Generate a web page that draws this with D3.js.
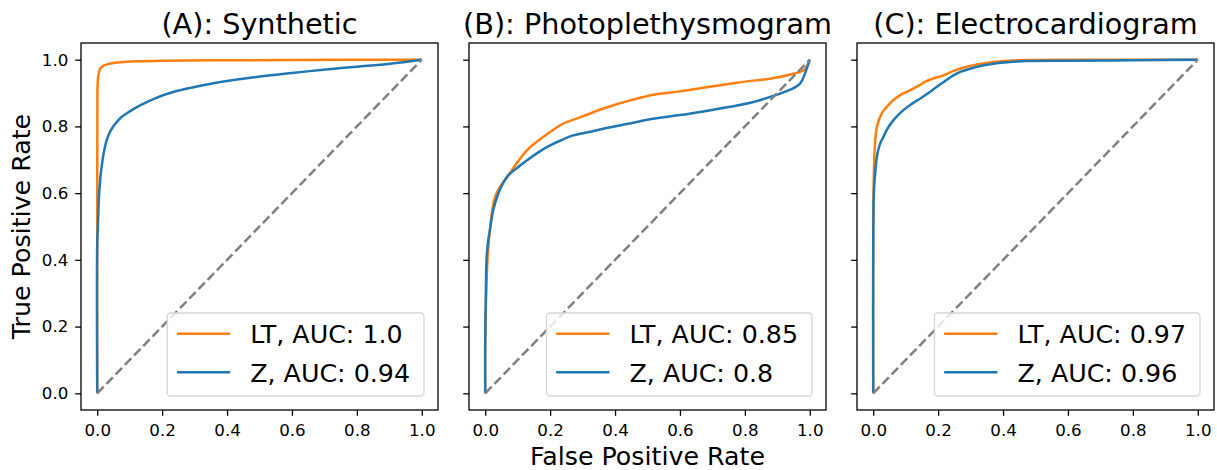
<!DOCTYPE html>
<html>
<head>
<meta charset="utf-8">
<script src="https://cdn.jsdelivr.net/npm/d3@7"></script>
<style>
  body { margin: 0; background: #fff; }
  svg { font-family: "DejaVu Sans", sans-serif; }
</style>
</head>
<body>
<svg id="chart" width="1217" height="470"></svg>
<script>
// panel titles and legend labels
const titles = ["(A): Synthetic", "(B): Photoplethysmogram", "(C): Electrocardiogram"];
const ltLabels = ["LT, AUC: 1.0", "LT, AUC: 0.85", "LT, AUC: 0.97"];
const zLabels = ["Z, AUC: 0.94", "Z, AUC: 0.8", "Z, AUC: 0.96"];
const tickValues = [0, 0.2, 0.4, 0.6, 0.8, 1.0];

// ROC points [fpr, tpr]
const synthLT = [[0,0],[0,0.6],[0.0005,0.85],[0.001,0.92],[0.003,0.95],[0.006,0.965],[0.01,0.974],[0.02,0.982],[0.03,0.986],[0.05,0.99],[0.08,0.993],[0.12,0.995],[0.2,0.997],[0.35,0.998],[0.6,0.999],[1,1]];
const synthZ = [[0,0],[0,0.45],[0.002,0.5],[0.003,0.53],[0.006,0.6],[0.01,0.65],[0.0135,0.678],[0.02,0.72],[0.029,0.758],[0.04,0.785],[0.055,0.807],[0.075,0.828],[0.1,0.845],[0.132,0.863],[0.18,0.885],[0.234,0.903],[0.3,0.918],[0.38,0.933],[0.491,0.948],[0.6,0.96],[0.697,0.97],[0.8,0.979],[0.902,0.988],[1,1]];
const ppgLT = [[0,0],[0,0.15],[0.003,0.3],[0.007,0.4],[0.0145,0.49],[0.022,0.55],[0.03,0.588],[0.045,0.618],[0.071,0.653],[0.09,0.68],[0.107,0.703],[0.13,0.73],[0.158,0.753],[0.2,0.783],[0.24,0.808],[0.3,0.83],[0.353,0.85],[0.4,0.865],[0.446,0.878],[0.518,0.895],[0.6,0.905],[0.672,0.916],[0.75,0.927],[0.806,0.935],[0.877,0.943],[0.949,0.958],[0.983,0.97],[1,1]];
const ppgZ = [[0,0],[0,0.15],[0.002,0.3],[0.004,0.4],[0.008,0.45],[0.0145,0.49],[0.025,0.55],[0.04,0.598],[0.055,0.63],[0.071,0.653],[0.1,0.677],[0.128,0.698],[0.16,0.72],[0.194,0.74],[0.23,0.757],[0.271,0.773],[0.32,0.783],[0.364,0.793],[0.44,0.808],[0.518,0.823],[0.6,0.834],[0.672,0.845],[0.75,0.858],[0.826,0.873],[0.898,0.895],[0.94,0.91],[0.97,0.928],[0.985,0.958],[1,1]];
const ecgLT = [[0,0],[0,0.5],[0.001,0.6],[0.003,0.7],[0.008,0.778],[0.013,0.805],[0.021,0.828],[0.03,0.845],[0.041,0.858],[0.06,0.877],[0.082,0.893],[0.113,0.908],[0.14,0.922],[0.164,0.936],[0.19,0.945],[0.216,0.953],[0.25,0.967],[0.277,0.976],[0.32,0.986],[0.37,0.993],[0.42,0.997],[0.473,0.999],[0.6,1],[1,1]];
const ecgZ = [[0,0],[0,0.45],[0.002,0.6],[0.006,0.66],[0.01,0.7],[0.015,0.728],[0.022,0.75],[0.031,0.768],[0.045,0.795],[0.062,0.818],[0.075,0.832],[0.092,0.848],[0.115,0.865],[0.144,0.883],[0.17,0.9],[0.195,0.918],[0.22,0.935],[0.247,0.953],[0.27,0.964],[0.298,0.973],[0.33,0.981],[0.37,0.988],[0.42,0.993],[0.473,0.996],[0.6,0.997],[0.8,0.998],[1,1]];

const ltCurves = [synthLT, ppgLT, ecgLT];
const zCurves = [synthZ, ppgZ, ecgZ];

const orange = "#ff7f0e", blue = "#1f77b4";
const svg = d3.select("#chart");

let panelLeft = [81, 469, 857];
let panelW = 357;
let plotTop = 43, plotBottom = 410;

let y = d3.scaleLinear().domain([-0.05, 1.05]).range([plotBottom, plotTop]);

panelLeft.forEach((left, i) => {
    let x = d3.scaleLinear().domain([-0.05, 1.05]).range([left, left + panelW]);
    let g = svg.append("g");

    let line = d3.line()
        .x(d => x(d[0]))
        .y(d => y(d[1]))
        .curve(d3.curveCatmullRom.alpha(0.5));

    // axes, frame drawn separately
    let xAxis = g.append("g")
        .attr("transform", `translate(0,${plotBottom})`)
        .call(d3.axisBottom(x).tickValues(tickValues).tickFormat(d3.format(".1f"))
            .tickSize(5.8).tickSizeOuter(0).tickPadding(8.5));
    xAxis.select(".domain").remove();

    let yAxis = g.append("g")
        .attr("transform", `translate(${left},0)`)
        .call(d3.axisLeft(y).tickValues(tickValues).tickFormat(i === 0 ? d3.format(".1f") : () => "")
            .tickSize(5.8).tickSizeOuter(0).tickPadding(6.9));
    yAxis.select(".domain").remove();

    g.selectAll(".tick line").attr("stroke", "#000").attr("stroke-width", 1.3);
    g.selectAll(".tick text").attr("font-size", 16.7).attr("font-family", "DejaVu Sans").attr("fill", "#000");

    g.append("path")
        .datum(ltCurves[i])
        .attr("d", line)
        .attr("fill", "none")
        .attr("stroke", orange)
        .attr("stroke-width", 2.5)
        .attr("stroke-linejoin", "round");

    g.append("path")
        .datum(zCurves[i])
        .attr("d", line)
        .attr("fill", "none")
        .attr("stroke", blue)
        .attr("stroke-width", 2.5)
        .attr("stroke-linejoin", "round");

    g.append("line")
        .attr("x1", x(0)).attr("y1", y(0))
        .attr("x2", x(1)).attr("y2", y(1))
        .attr("stroke", "#808080")
        .attr("stroke-width", 2.5)
        .attr("stroke-dasharray", "9.2 4");

    g.append("rect")
        .attr("x", left)
        .attr("y", plotTop)
        .attr("width", panelW)
        .attr("height", plotBottom - plotTop)
        .attr("fill", "none")
        .attr("stroke", "#000")
        .attr("stroke-width", 1.3);

    g.append("text")
        .attr("x", left + panelW / 2)
        .attr("y", 33.5)
        .attr("text-anchor", "middle")
        .attr("font-size", 28.7)
        .text(titles[i]);

    // legend
    let leg = g.append("g");
    let labels = [ltLabels[i], zLabels[i]];
    let colors = [orange, blue];
    let texts = leg.selectAll("text")
        .data(labels)
        .enter()
        .append("text")
        .attr("font-size", 25.3)
        .text(d => d);
    let textW = d3.max(texts.nodes(), n => n.getComputedTextLength());
    let legW = 9.7 + 53.3 + 21 + textW + 13;
    let legRight = left + panelW - 14;
    let legLeft = legRight - legW;
    let legTop = 313, legBottom = 396;

    leg.insert("rect", "text")
        .attr("x", legLeft)
        .attr("y", legTop)
        .attr("width", legW)
        .attr("height", legBottom - legTop)
        .attr("rx", 3.5)
        .attr("fill", "#fff")
        .attr("fill-opacity", 0.8)
        .attr("stroke", "#d6d6d6")
        .attr("stroke-width", 1.3);

    leg.selectAll("line")
        .data(labels)
        .enter()
        .append("line")
        .attr("x1", legLeft + 9.7)
        .attr("x2", legLeft + 63)
        .attr("y1", (d, j) => legTop + 20.7 + j * 38.6)
        .attr("y2", (d, j) => legTop + 20.7 + j * 38.6)
        .attr("stroke", (d, j) => colors[j])
        .attr("stroke-width", 2.5);

    texts.attr("x", legLeft + 83)
        .attr("y", (d, j) => legTop + 30.3 + j * 38.6);
});

svg.append("text")
    .attr("x", 647.5)
    .attr("y", 465)
    .attr("text-anchor", "middle")
    .attr("font-size", 25.3)
    .text("False Positive Rate");

svg.append("text")
    .attr("transform", `translate(29.5,${(plotTop + plotBottom) / 2}) rotate(-90)`)
    .attr("text-anchor", "middle")
    .attr("font-size", 25.3)
    .text("True Positive Rate");
</script>
</body>
</html>
